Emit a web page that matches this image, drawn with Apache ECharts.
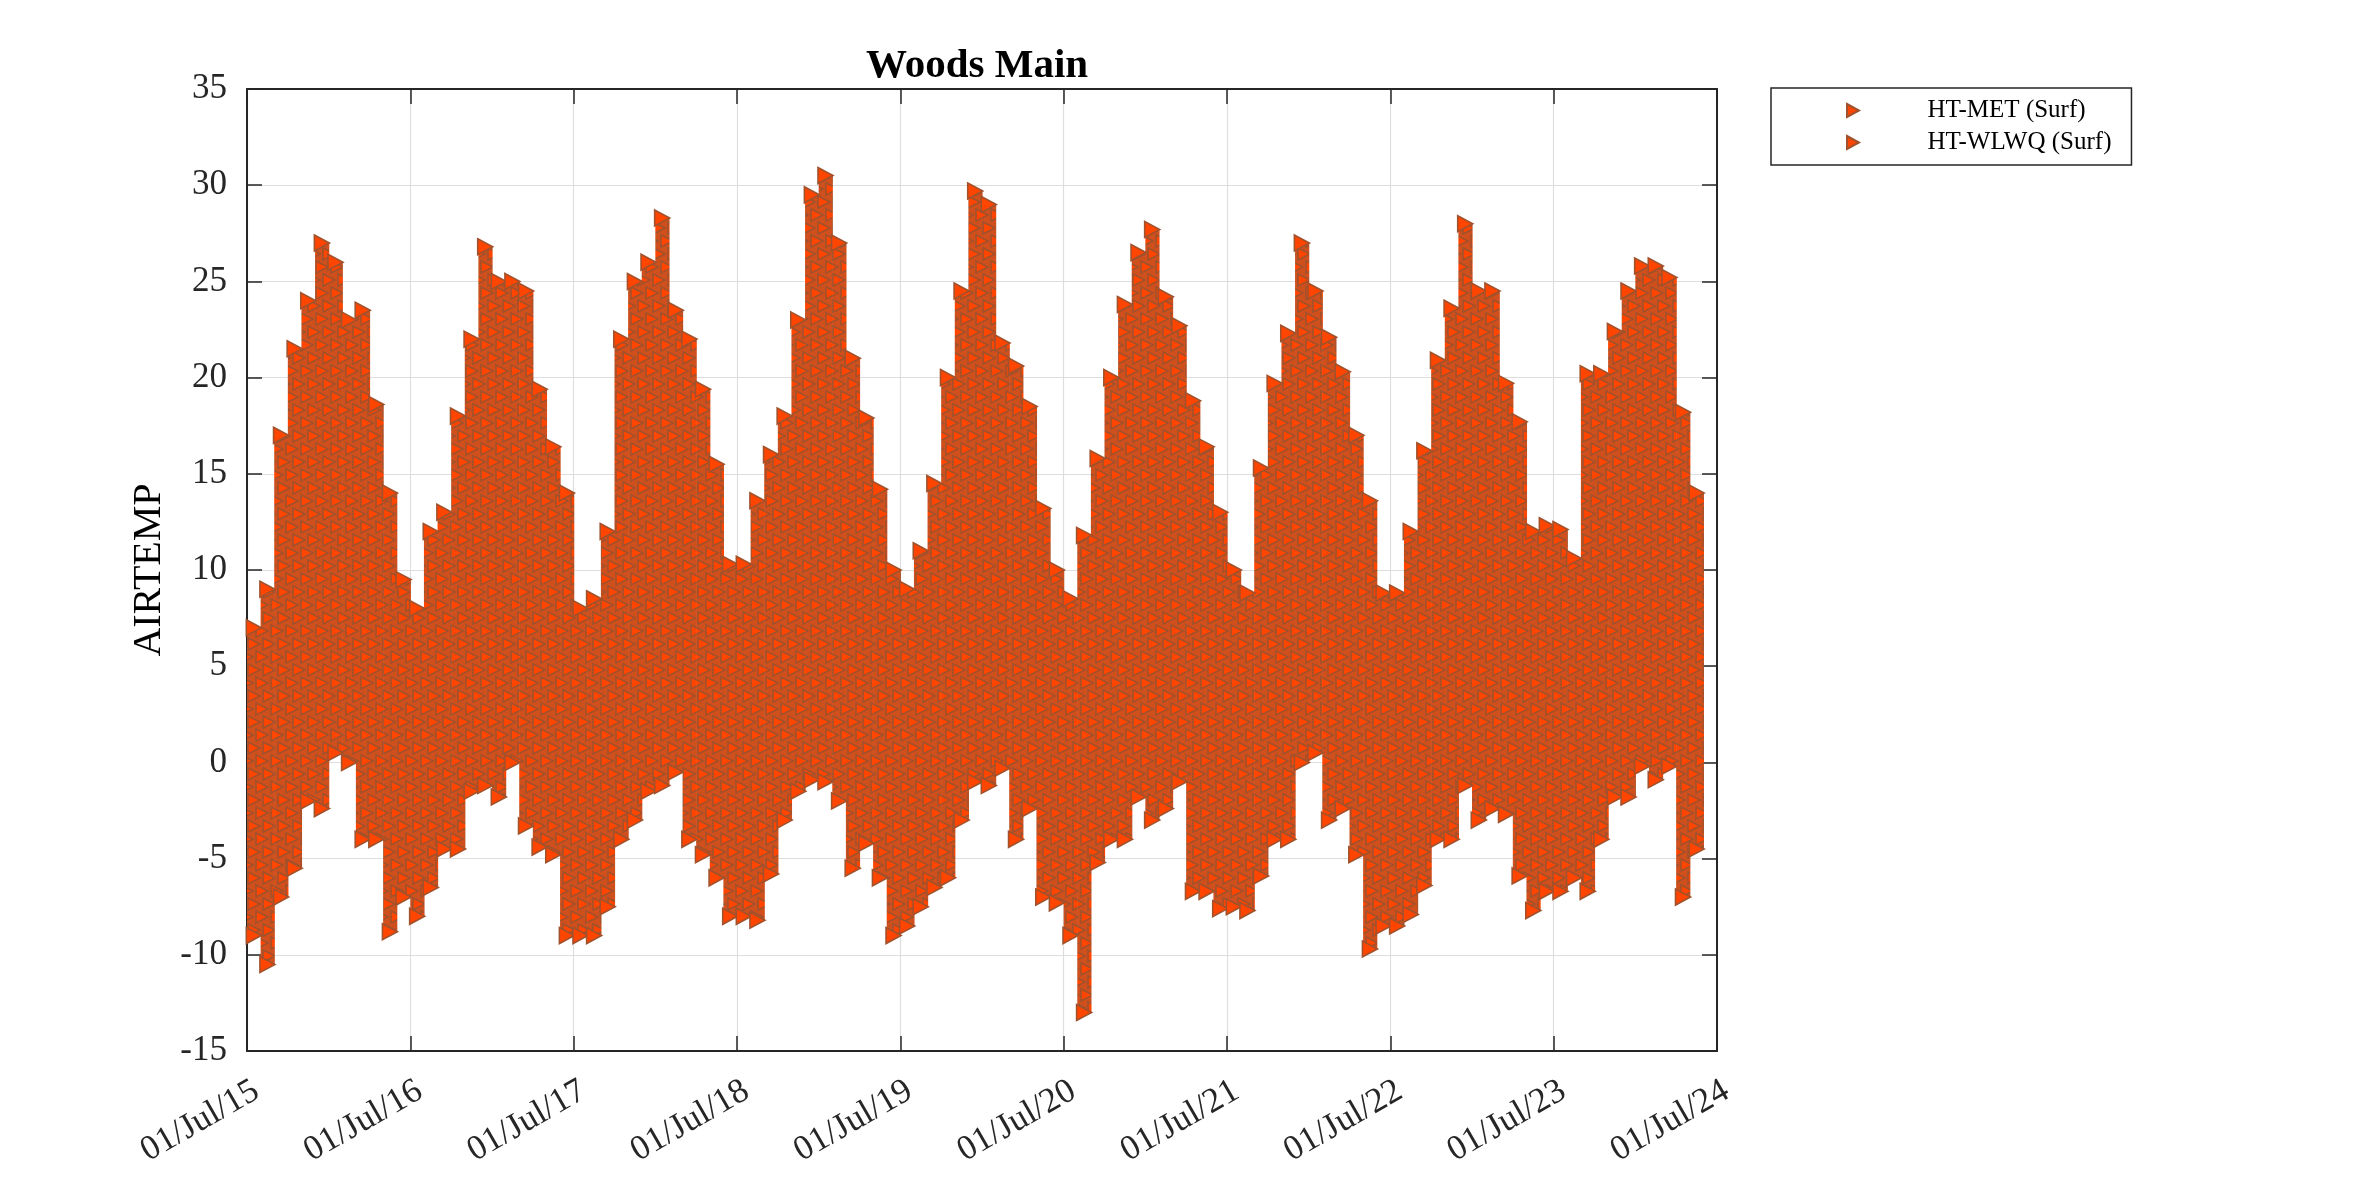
<!DOCTYPE html>
<html>
<head>
<meta charset="utf-8">
<title>Woods Main</title>
<script src="https://cdn.jsdelivr.net/npm/echarts/dist/echarts.min.js"></script>
<style>
  html, body { margin: 0; padding: 0; background: #ffffff; }
  #chart { width: 2362px; height: 1181px; }
</style>
</head>
<body>
<div id="chart"></div>
<script>
// monthly envelope of AIRTEMP (first month = Jul 2015)
var months = [
  '2015-07','2015-08','2015-09','2015-10','2015-11','2015-12',
  '2016-01','2016-02','2016-03','2016-04','2016-05','2016-06','2016-07','2016-08','2016-09','2016-10','2016-11','2016-12',
  '2017-01','2017-02','2017-03','2017-04','2017-05','2017-06','2017-07','2017-08','2017-09','2017-10','2017-11','2017-12',
  '2018-01','2018-02','2018-03','2018-04','2018-05','2018-06','2018-07','2018-08','2018-09','2018-10','2018-11','2018-12',
  '2019-01','2019-02','2019-03','2019-04','2019-05','2019-06','2019-07','2019-08','2019-09','2019-10','2019-11','2019-12',
  '2020-01','2020-02','2020-03','2020-04','2020-05','2020-06','2020-07','2020-08','2020-09','2020-10','2020-11','2020-12',
  '2021-01','2021-02','2021-03','2021-04','2021-05','2021-06','2021-07','2021-08','2021-09','2021-10','2021-11','2021-12',
  '2022-01','2022-02','2022-03','2022-04','2022-05','2022-06','2022-07','2022-08','2022-09','2022-10','2022-11','2022-12',
  '2023-01','2023-02','2023-03','2023-04','2023-05','2023-06','2023-07','2023-08','2023-09','2023-10','2023-11','2023-12',
  '2024-01','2024-02','2024-03','2024-04','2024-05'
];

var maxTemp = [
  7, 9, 17, 21.5, 24, 27, 26, 23, 23.5, 18.6, 14, 9.5,
  8, 12, 13, 18, 22, 26.8, 25, 25, 24.5, 19.4, 16.4, 14,
  8, 8.5, 12, 22, 25, 26, 28.3, 23.5, 22, 19.4, 15.5, 10.3,
  10.3, 13.6, 16, 18, 23, 29.5, 30.5, 27, 21, 17.9, 14.2, 10,
  9, 11, 14.5, 20, 24.5, 29.7, 29, 21.8, 20.6, 18.5, 13.2, 10,
  8.5, 11.8, 15.8, 20, 23.8, 26.5, 27.7, 24.2, 22.7, 18.8, 16.4, 13,
  10, 8.8, 15.3, 19.7, 22.3, 27, 24.5, 22.1, 20.3, 17, 13.6, 8.8,
  8.8, 12, 16.2, 20.9, 23.6, 28, 24.5, 24.5, 19.7, 17.7, 12, 12.3,
  12.1, 10.6, 20.2, 20.2, 22.4, 24.5, 25.8, 25.8, 25.2, 18.2, 14
];

var minTemp = [
  -9, -10.5, -7, -5.5, -2, -2.4, 0.5, 0, -4, -4, -8.8, -7,
  -8, -6.5, -4.5, -4.5, -1.5, -1.2, -1.8, 0, -3.3, -4.4, -4.8, -9,
  -9, -9, -7.5, -4, -3, -1.5, -1.2, -0.5, -4, -4.8, -6, -8,
  -8, -8.2, -5.8, -3, -1.5, -0.9, -1, -2, -5.5, -4.2, -6, -9,
  -8.5, -7.5, -6.5, -6, -3, -1, -1.2, -0.3, -4, -2.4, -7, -7.3,
  -9, -13, -5.2, -4, -4, -1.8, -3, -2.4, -1, -6.7, -6.7, -7.6,
  -7.5, -7.7, -5.9, -4, -4, 0, 0.5, -3, -2.4, -4.8, -9.7, -8.5,
  -8.5, -7.9, -6.4, -4, -4, -1.2, -3, -2.4, -2.7, -5.9, -7.7, -6.7,
  -6.7, -6, -6.7, -4, -1.8, -1.8, -0.2, -0.9, -0.2, -7, -4.5
];

// which station the months belong to
var wlwqStart = '2019-07';

var xTickLabels = ['01/Jul/15', '01/Jul/16', '01/Jul/17', '01/Jul/18', '01/Jul/19',
  '01/Jul/20', '01/Jul/21', '01/Jul/22', '01/Jul/23', '01/Jul/24'];

var seriesNames = ['HT-MET (Surf)', 'HT-WLWQ (Surf)'];

var SERIF = "'Liberation Serif', 'Times New Roman', serif";
var AXIS_COLOR = '#262626';
var FILL = '#ff4500';
var EDGE = '#a0522d';
var TRI = 'path://M0,0L12,6.5L0,13Z';

// years since 01/Jul/15, middle of the month
function monthPos(m) {
  var y = parseInt(m.substr(0, 4), 10);
  var mo = parseInt(m.substr(5, 2), 10);
  return ((y - 2015) * 12 + (mo - 7) + 0.5) / 12;
}

// tile of overlapping triangles used to fill the dense part
function makePattern() {
  var c = document.createElement('canvas');
  c.width = 30;
  c.height = 26;
  var ctx = c.getContext('2d');
  ctx.fillStyle = '#cf4f1d';
  ctx.fillRect(0, 0, 30, 26);
  var spots = [[0, 0], [15, 0], [7, 13], [22, 13]];
  ctx.lineWidth = 1.6;
  for (var dx = -30; dx <= 30; dx += 30) {
    for (var dy = -26; dy <= 26; dy += 26) {
      spots.forEach(function (s) {
        var x = s[0] + dx, y = s[1] + dy;
        ctx.beginPath();
        ctx.moveTo(x + 1, y + 1);
        ctx.lineTo(x + 13, y + 7);
        ctx.lineTo(x + 1, y + 13);
        ctx.closePath();
        ctx.fillStyle = FILL;
        ctx.fill();
        ctx.strokeStyle = EDGE;
        ctx.stroke();
      });
    }
  }
  return { image: c, repeat: 'repeat' };
}

function buildSeries() {
  var pattern = makePattern();
  var band = [[], []];
  var edge = [[], []];
  months.forEach(function (m, i) {
    var k = m < wlwqStart ? 0 : 1;
    var x = monthPos(m);
    band[k].push([x, minTemp[i], maxTemp[i]]);
    edge[k].push([x, maxTemp[i]]);
    edge[k].push([x, minTemp[i]]);
  });

  var out = [];
  for (var k = 0; k < 2; k++) {
    out.push({
      name: seriesNames[k],
      type: 'scatter',
      z: 3,
      symbol: TRI,
      symbolSize: [15, 16],
      itemStyle: { color: FILL, borderColor: EDGE, borderWidth: 1.6, opacity: 1 },
      data: edge[k]
    });
  }
  for (var j = 0; j < 2; j++) {
    out.push({
      name: seriesNames[j],
      type: 'custom',
      z: 2,
      itemStyle: { color: FILL },
      renderItem: function (params, api) {
        var x = api.value(0);
        var p0 = api.coord([x - 1 / 24, api.value(2)]);
        var p1 = api.coord([x + 1 / 24, api.value(1)]);
        return {
          type: 'rect',
          shape: { x: p0[0], y: p0[1], width: p1[0] - p0[0] + 0.6, height: p1[1] - p0[1] },
          style: { fill: pattern }
        };
      },
      encode: { x: 0, y: [1, 2] },
      data: band[j]
    });
  }
  return out;
}

function getChartOption() {
  var tickLine = { show: true, inside: true, length: 15, lineStyle: { color: AXIS_COLOR, width: 1.5 } };
  var frame = { show: true, onZero: false, lineStyle: { color: AXIS_COLOR, width: 2 } };
  var grid = { show: true, lineStyle: { color: '#dedede', width: 1.2 } };
  return {
    animation: false,
    backgroundColor: '#ffffff',
    title: {
      text: 'Woods Main',
      left: 866,
      top: 46,
      padding: 0,
      textStyle: { fontFamily: SERIF, fontSize: 41, fontWeight: 'bold', color: '#000000' }
    },
    legend: {
      orient: 'vertical',
      left: 1771,
      top: 88,
      padding: [10, 20, 10, 75],
      itemWidth: 13,
      itemHeight: 13,
      itemGap: 7,
      borderColor: AXIS_COLOR,
      borderWidth: 1.5,
      backgroundColor: '#ffffff',
      data: seriesNames.map(function (n) { return { name: n, icon: TRI }; }),
      textStyle: { fontFamily: SERIF, fontSize: 25, color: '#000000', padding: [0, 0, 0, 63] }
    },
    grid: { left: 247, right: 645, top: 89, bottom: 130 },
    xAxis: [{
      type: 'value',
      min: 0,
      max: 9,
      interval: 1,
      position: 'bottom',
      axisLine: frame,
      axisTick: tickLine,
      splitLine: grid,
      axisLabel: {
        rotate: 30,
        margin: 43,
        padding: [0, -11, 0, 0],
        fontFamily: SERIF,
        fontSize: 35,
        color: AXIS_COLOR,
        formatter: function (v) { return xTickLabels[Math.round(v)]; }
      }
    }, {
      type: 'value',
      min: 0,
      max: 9,
      interval: 1,
      position: 'top',
      axisLine: frame,
      axisTick: tickLine,
      splitLine: { show: false },
      axisLabel: { show: false }
    }],
    yAxis: [{
      type: 'value',
      min: -15,
      max: 35,
      interval: 5,
      position: 'left',
      name: 'AIRTEMP',
      nameLocation: 'middle',
      nameGap: 76,
      nameTextStyle: { fontFamily: SERIF, fontSize: 40, color: '#000000' },
      axisLine: frame,
      axisTick: tickLine,
      splitLine: grid,
      axisLabel: { margin: 20, fontFamily: SERIF, fontSize: 35, color: AXIS_COLOR }
    }, {
      type: 'value',
      min: -15,
      max: 35,
      interval: 5,
      position: 'right',
      axisLine: frame,
      axisTick: tickLine,
      splitLine: { show: false },
      axisLabel: { show: false }
    }],
    series: buildSeries()
  };
}

var chart = echarts.init(document.getElementById('chart'), null, { renderer: 'canvas' });
chart.setOption(getChartOption());
</script>
</body>
</html>
